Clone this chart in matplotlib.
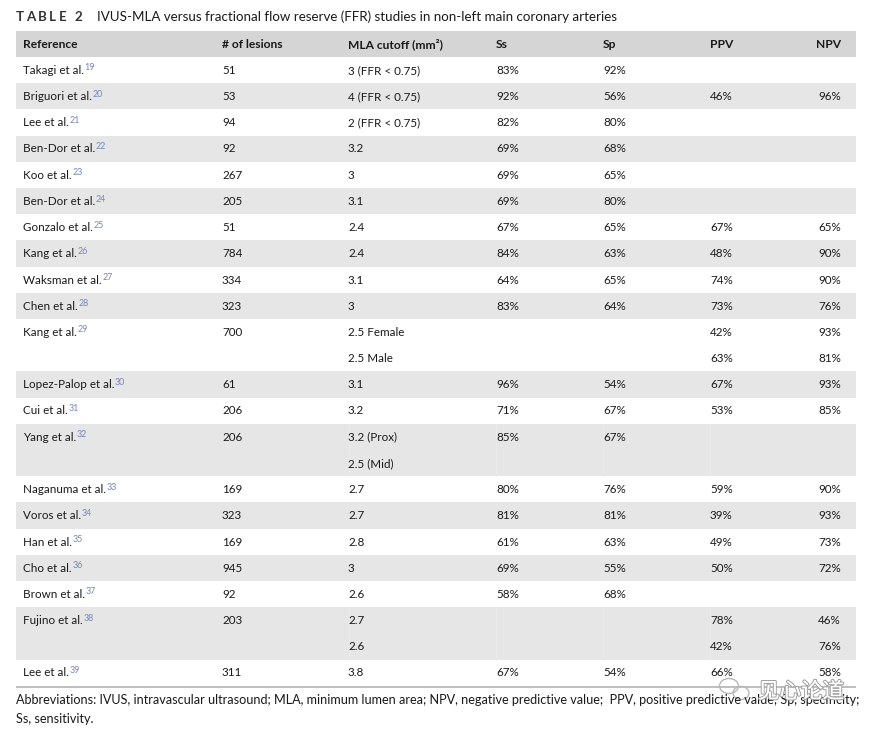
import matplotlib
matplotlib.use("Agg")
import matplotlib.pyplot as plt
import matplotlib.patheffects as pe
from matplotlib.patches import Rectangle, Ellipse

# ---------------- data ----------------
columns = ["Reference", "# of lesions", "MLA cutoff (mm\u00b2)", "Ss", "Sp", "PPV", "NPV"]
references = ["Takagi et al.", "Briguori et al.", "Lee et al.", "Ben-Dor et al.", "Koo et al.",
              "Ben-Dor et al.", "Gonzalo et al.", "Kang et al.", "Waksman et al.", "Chen et al.",
              "Kang et al.", "", "Lopez-Palop et al.", "Cui et al.", "Yang et al.", "",
              "Naganuma et al.", "Voros et al.", "Han et al.", "Cho et al.", "Brown et al.",
              "Fujino et al.", "", "Lee et al."]
ref_numbers = ["19", "20", "21", "22", "23", "24", "25", "26", "27", "28", "29", "", "30", "31",
               "32", "", "33", "34", "35", "36", "37", "38", "", "39"]
lesions = ["51", "53", "94", "92", "267", "205", "51", "784", "334", "323", "700", "", "61", "206",
           "206", "", "169", "323", "169", "945", "92", "203", "", "311"]
mla_cutoff = ["3 (FFR < 0.75)", "4 (FFR < 0.75)", "2 (FFR < 0.75)", "3.2", "3", "3.1", "2.4", "2.4",
              "3.1", "3", "2.5 Female", "2.5 Male", "3.1", "3.2", "3.2 (Prox)", "2.5 (Mid)", "2.7",
              "2.7", "2.8", "3", "2.6", "2.7", "2.6", "3.8"]
ss = ["83%", "92%", "82%", "69%", "69%", "69%", "67%", "84%", "64%", "83%", "", "", "96%", "71%",
      "85%", "", "80%", "81%", "61%", "69%", "58%", "", "", "67%"]
sp = ["92%", "56%", "80%", "68%", "65%", "80%", "65%", "63%", "65%", "64%", "", "", "54%", "67%",
      "67%", "", "76%", "81%", "63%", "55%", "68%", "", "", "54%"]
ppv = ["", "46%", "", "", "", "", "67%", "48%", "74%", "73%", "42%", "63%", "67%", "53%", "", "",
       "59%", "39%", "49%", "50%", "", "78%", "42%", "66%"]
npv = ["", "96%", "", "", "", "", "65%", "90%", "90%", "76%", "93%", "81%", "93%", "85%", "", "",
       "90%", "93%", "73%", "72%", "", "46%", "76%", "58%"]

title_label = "TABLE 2"
title_text = "IVUS-MLA versus fractional flow reserve (FFR) studies in non-left main coronary arteries"
footnote_1 = ("Abbreviations: IVUS, intravascular ultrasound; MLA, minimum lumen area; NPV, negative "
              "predictive value;  PPV, positive predictive value; Sp, specificity;")
footnote_2 = "Ss, sensitivity."
watermark = "见心论道"

# ---------------- layout ----------------
W, H = 870, 732
fig = plt.figure(figsize=(W / 100, H / 100), dpi=100)
ax = fig.add_axes([0, 0, 1, 1])
ax.set_xlim(0, W)
ax.set_ylim(H, 0)
ax.axis("off")
renderer = fig.canvas.get_renderer()

FONT = ["Lato", "DejaVu Sans"]
TXT = "#1a1a1a"
SUP = "#7686bb"
HEADER_BG = "#d5d5d5"
STRIPE_BG = "#e6e6e6"


def measure(s, size, weight="normal", family=FONT):
    t = ax.text(0, 0, s, fontsize=size, fontweight=weight, family=family)
    w = t.get_window_extent(renderer=renderer).width
    t.remove()
    return w


def fit_size(s, target, weight="normal"):
    return 10 * target / measure(s, 10, weight)


body_fs = fit_size("Lopez-Palop et al.", 91)
head_fs = fit_size("# of lesions", 61, "bold")
title_fs = fit_size(title_text, 519)
foot_fs = fit_size(footnote_1, 840)
sup_fs = body_fs * 0.76

left, right = 16, 856
top_header, header_h = 31, 26
row_h = 26.2
col_x = [23, 222, 348, 496, 603, 710]
npv_right = 841
col_edges = [349, 496, 603, 710]
base_off = 3.8   # baseline below row centre (px)

# title
x = 16
label_chars = list(title_label)
widths = [measure(c, title_fs, "bold") for c in label_chars]
track = (66 - sum(widths)) / (len(label_chars) - 1)
for c, w in zip(label_chars, widths):
    ax.text(x, 21, c, fontsize=title_fs, fontweight="bold", family=FONT, color="#333333",
            va="baseline", ha="left")
    x += w + track
ax.text(97, 21, title_text, fontsize=title_fs, family=FONT, color=TXT, va="baseline", ha="left")

# header
ax.add_patch(Rectangle((left, top_header), right - left, header_h, facecolor=HEADER_BG,
                       edgecolor="none"))
hy = top_header + header_h / 2 + base_off
for i, name in enumerate(columns):
    if i == len(columns) - 1:
        ax.text(npv_right, hy, name, fontsize=head_fs, fontweight="bold", family=FONT, color=TXT,
                va="baseline", ha="right")
    else:
        ax.text(col_x[i], hy, name, fontsize=head_fs, fontweight="bold", family=FONT, color=TXT,
                va="baseline", ha="left")

# row shading by study group
y0 = top_header + header_h
n = len(references)
group = []
g = -1
for r in references:
    if r:
        g += 1
    group.append(g)

i = 0
while i < n:
    j = i + 1
    while j < n and group[j] == group[i]:
        j += 1
    if group[i] % 2 == 1:
        ax.add_patch(Rectangle((left, y0 + i * row_h), right - left, (j - i) * row_h,
                               facecolor=STRIPE_BG, edgecolor="none"))
        if j - i > 1:
            for ex in col_edges:
                ax.plot([ex, ex], [y0 + i * row_h, y0 + j * row_h], color="#ebebeb", lw=0.7)
    i = j

# cells
for k in range(n):
    by = y0 + (k + 0.5) * row_h + base_off
    if references[k]:
        t = ax.text(col_x[0], by, references[k], fontsize=body_fs, family=FONT, color=TXT,
                    va="baseline", ha="left")
        w = t.get_window_extent(renderer=renderer).width
        ax.text(col_x[0] + w + 0.6, by - 3.4, ref_numbers[k], fontsize=sup_fs, family=FONT,
                color=SUP, va="baseline", ha="left")
    for c, vals in enumerate([lesions, mla_cutoff, ss, sp, ppv], start=1):
        if vals[k]:
            ax.text(col_x[c], by, vals[k], fontsize=body_fs, family=FONT, color=TXT,
                    va="baseline", ha="left")
    if npv[k]:
        ax.text(npv_right, by, npv[k], fontsize=body_fs, family=FONT, color=TXT,
                va="baseline", ha="right")

# bottom rule
yb = y0 + n * row_h + 1
ax.plot([left, right], [yb, yb], color="#b9b9b9", lw=1.3, solid_capstyle="butt")

# footnote
ax.text(16, 704.5, footnote_1, fontsize=foot_fs, family=FONT, color=TXT, va="baseline", ha="left")
ax.text(16, 723, footnote_2, fontsize=foot_fs, family=FONT, color=TXT, va="baseline", ha="left")

# watermark (white glyphs with grey outline, as in the reference)
ax.add_patch(Ellipse((729, 686), 19, 15, facecolor="none", edgecolor="#b8b8b8", lw=1.0))
ax.add_patch(Ellipse((741, 693), 16, 13, facecolor="none", edgecolor="#b8b8b8", lw=1.0))
ax.text(801, 692, watermark, fontsize=15.5, family=["Noto Sans CJK SC", "DejaVu Sans"],
        color="white", va="center", ha="center",
        path_effects=[pe.withStroke(linewidth=1.6, foreground="#a0a0a0"), pe.Normal()])

fig.savefig("out.png", dpi=100)
